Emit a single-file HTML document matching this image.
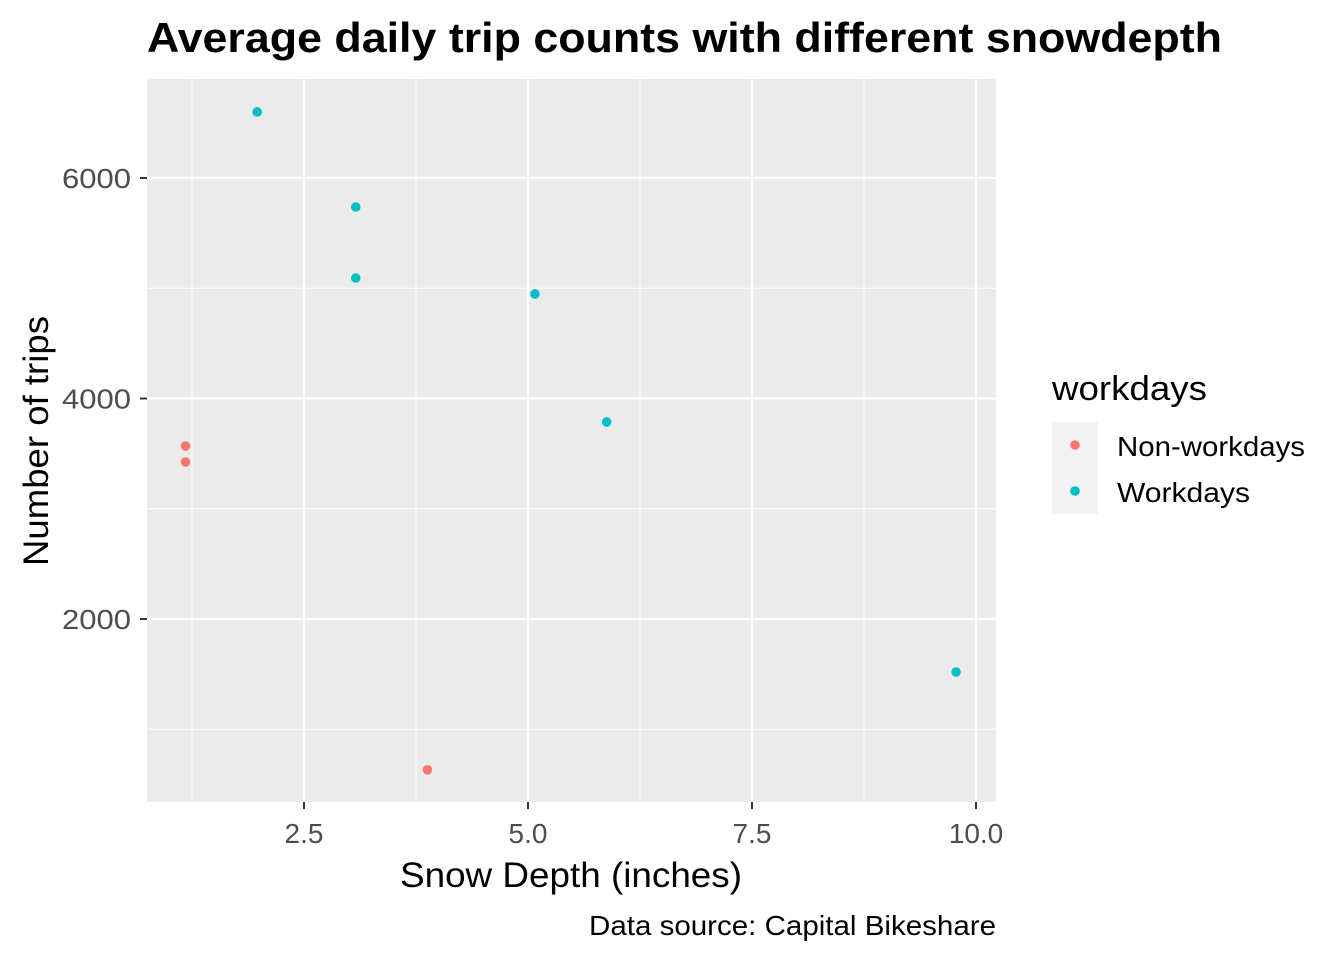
<!DOCTYPE html>
<html><head><meta charset="utf-8"><style>
body{margin:0;background:#fff;font-family:"Liberation Sans",sans-serif}
</style></head><body>
<svg id="chart" width="1344" height="960" xmlns="http://www.w3.org/2000/svg" font-family="Liberation Sans, sans-serif">
<rect width="1344" height="960" fill="#fff"/>
<text x="147" y="52" font-size="42" font-weight="bold" textLength="1075" lengthAdjust="spacingAndGlyphs">Average daily trip counts with different snowdepth</text>
<rect x="147" y="79" width="849" height="723" fill="#ebebeb"/>
<g id="grid"></g>
<g id="points"></g>
<g id="axes"></g>
<text x="400" y="887" font-size="35" textLength="342" lengthAdjust="spacingAndGlyphs">Snow Depth (inches)</text>
<text transform="translate(48,566) rotate(-90)" font-size="35" textLength="250" lengthAdjust="spacingAndGlyphs">Number of trips</text>
<text x="589" y="935" font-size="28" textLength="407" lengthAdjust="spacingAndGlyphs">Data source: Capital Bikeshare</text>
<g>
<text x="1052" y="400" font-size="34" textLength="155" lengthAdjust="spacingAndGlyphs">workdays</text>
<rect x="1052" y="422" width="46" height="46" fill="#f2f2f2"/>
<rect x="1052" y="468" width="46" height="46" fill="#f2f2f2"/>
<circle cx="1075" cy="445" r="4.8" fill="#F8766D"/>
<circle cx="1075" cy="491" r="4.8" fill="#00BFC4"/>
<text x="1117" y="456" font-size="28" textLength="188" lengthAdjust="spacingAndGlyphs">Non-workdays</text>
<text x="1117" y="502" font-size="28" textLength="133" lengthAdjust="spacingAndGlyphs">Workdays</text>
</g>
</svg>
<script>
const xTicks=[2.5,5.0,7.5,10.0];
const xTickLabels=["2.5","5.0","7.5","10.0"];
const yTicks=[2000,4000,6000];
const yTickLabels=["2000","4000","6000"];
const nonWorkX=[1.2,1.2,3.9];
const nonWorkY=[3569,3424,632];
const workX=[2.0,3.1,3.1,5.1,5.9,9.8];
const workY=[6599,5737,5093,4948,3787,1519];
const NS="http://www.w3.org/2000/svg";
function sx(v){return 80+v*89.6;}
function sy(v){return 839.5-v*0.11025;}
const grid=document.getElementById('grid'),pts=document.getElementById('points'),axes=document.getElementById('axes');
function mk(tag,attrs,parent){const e=document.createElementNS(NS,tag);for(const k in attrs)e.setAttribute(k,attrs[k]);parent.appendChild(e);return e;}
for(let i=0;i<xTicks.length;i++){
  const m=xTicks[i]-1.25;const l=mk('line',{x1:sx(m),x2:sx(m),y1:79,y2:802,stroke:'#fff','stroke-width':1},grid);
  
  
}
for(let i=0;i<yTicks.length;i++){
  const m=yTicks[i]-1000;const l=mk('line',{x1:147,x2:996,y1:sy(m),y2:sy(m),stroke:'#fff','stroke-width':1},grid);
  
  
}
const extra=mk('line',{x1:147,x2:996,y1:sy(7000),y2:sy(7000),stroke:'#fff','stroke-width':1},grid);


xTicks.forEach((v,i)=>{
  const l=mk('line',{x1:sx(v),x2:sx(v),y1:79,y2:802,stroke:'#fff','stroke-width':2.2},grid);
  
  
  const t=mk('line',{x1:sx(v),x2:sx(v),y1:802,y2:809,stroke:'#333','stroke-width':2},axes);
  
  
  const tx=mk('text',{x:sx(v),y:843,'font-size':28,'text-anchor':'middle',fill:'#4d4d4d'},axes);
  tx.textContent=xTickLabels[i];
  
  
});
yTicks.forEach((v,i)=>{
  const l=mk('line',{x1:147,x2:996,y1:sy(v),y2:sy(v),stroke:'#fff','stroke-width':2.2},grid);
  
  
  const t=mk('line',{x1:140,x2:147,y1:sy(v),y2:sy(v),stroke:'#333','stroke-width':2},axes);
  
  
  const tx=mk('text',{x:131,y:sy(v)+10,'font-size':28,'text-anchor':'end',fill:'#4d4d4d',textLength:69,lengthAdjust:'spacingAndGlyphs'},axes);
  tx.textContent=yTickLabels[i];
  
  
});
nonWorkX.forEach((x,i)=>{
  const c=mk('circle',{cx:sx(x)-2,cy:sy(nonWorkY[i]),r:4.8,fill:'#F8766D'},pts);
  
  
});
workX.forEach((x,i)=>{
  const c=mk('circle',{cx:sx(x)-2,cy:sy(workY[i]),r:4.8,fill:'#00BFC4'},pts);
  
  
});
</script>
</body></html>
